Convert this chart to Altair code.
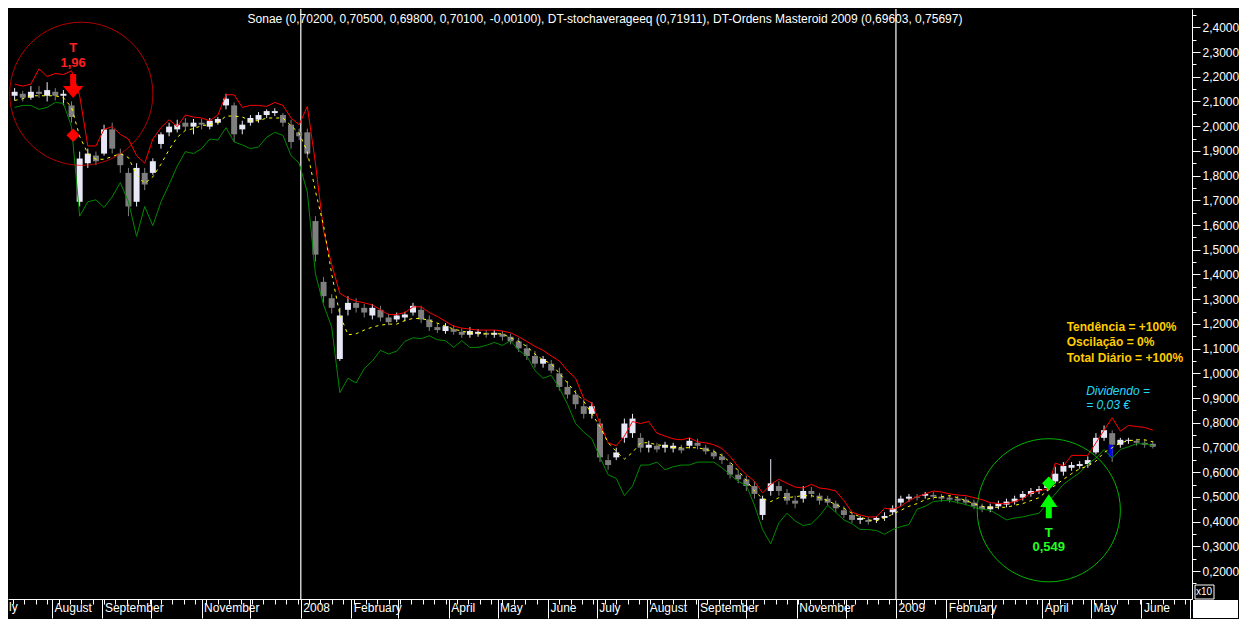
import altair as alt
import pandas as pd

W, H = 1184, 590

# ---- data (prices, one sample every 5 calendar days from 2007-07-09) ----
first_date = "2007-07-09"

red_band = [2.170,2.162,2.170,2.232,2.201,2.213,2.209,2.224,2.123,1.920,
1.920,1.987,1.998,1.967,1.948,1.881,1.850,1.948,1.994,2.026,
1.998,2.045,2.037,2.033,2.022,2.045,2.127,2.127,2.076,2.084,
2.084,2.080,2.096,2.084,2.033,2.006,2.080,1.850,1.577,1.440,
1.324,1.304,1.292,1.285,1.277,1.257,1.238,1.238,1.246,1.269,
1.269,1.246,1.230,1.210,1.191,1.183,1.179,1.175,1.175,1.175,
1.171,1.164,1.148,1.129,1.109,1.093,1.070,1.050,1.011,0.980,
0.898,0.879,0.797,0.719,0.707,0.746,0.805,0.797,0.805,0.758,
0.746,0.735,0.731,0.739,0.723,0.719,0.711,0.696,0.664,0.622,
0.590,0.563,0.516,0.551,0.571,0.555,0.540,0.536,0.551,0.536,
0.532,0.524,0.485,0.438,0.427,0.419,0.419,0.454,0.450,0.462,
0.485,0.501,0.512,0.524,0.520,0.512,0.508,0.505,0.497,0.489,
0.477,0.473,0.473,0.481,0.493,0.516,0.524,0.532,0.637,0.625,
0.668,0.668,0.668,0.719,0.770,0.820,0.766,0.789,0.785,0.781,
0.770]

green_band = [2.076,2.084,2.084,2.068,2.076,2.096,2.092,1.998,1.636,1.694,
1.702,1.671,1.714,1.772,1.694,1.554,1.675,1.597,1.694,1.764,
1.838,1.897,1.889,1.909,1.948,1.944,1.994,1.936,1.924,1.909,
1.916,1.955,1.975,1.963,1.881,1.850,1.733,1.402,1.277,1.187,
0.922,0.980,0.961,1.019,1.050,1.093,1.078,1.090,1.129,1.144,
1.140,1.152,1.136,1.132,1.105,1.132,1.105,1.105,1.113,1.125,
1.113,1.132,1.093,1.070,1.011,0.980,0.992,0.941,0.875,0.797,
0.762,0.735,0.660,0.590,0.575,0.505,0.544,0.629,0.629,0.641,
0.610,0.622,0.629,0.629,0.641,0.641,0.641,0.618,0.590,0.563,
0.547,0.466,0.368,0.310,0.395,0.434,0.403,0.384,0.391,0.423,
0.466,0.438,0.407,0.391,0.368,0.368,0.364,0.349,0.368,0.380,
0.388,0.450,0.462,0.481,0.485,0.485,0.477,0.469,0.458,0.450,
0.446,0.427,0.407,0.415,0.419,0.427,0.434,0.473,0.512,0.551,
0.575,0.598,0.633,0.657,0.692,0.657,0.692,0.703,0.715,0.715,
0.707]

yellow_avg = [2.104,2.111,2.123,2.123,2.123,2.123,2.115,2.076,1.959,1.889,
1.866,1.866,1.877,1.889,1.873,1.803,1.768,1.795,1.846,1.905,
1.955,1.983,1.990,2.002,2.006,2.014,2.041,2.041,2.037,2.022,
2.022,2.033,2.033,2.033,2.002,1.971,1.897,1.737,1.597,1.402,
1.238,1.156,1.160,1.175,1.187,1.195,1.199,1.199,1.214,1.222,
1.222,1.214,1.203,1.191,1.179,1.171,1.164,1.160,1.160,1.160,
1.160,1.144,1.129,1.109,1.078,1.054,1.039,1.000,0.961,0.922,
0.887,0.836,0.785,0.719,0.684,0.653,0.680,0.719,0.719,0.711,
0.707,0.699,0.699,0.699,0.699,0.692,0.684,0.668,0.641,0.606,
0.567,0.524,0.493,0.481,0.497,0.497,0.501,0.505,0.505,0.497,
0.485,0.469,0.454,0.434,0.419,0.407,0.403,0.415,0.430,0.446,
0.462,0.473,0.489,0.497,0.501,0.505,0.497,0.485,0.473,0.462,
0.458,0.458,0.458,0.466,0.473,0.485,0.497,0.524,0.547,0.571,
0.594,0.614,0.625,0.645,0.680,0.699,0.719,0.727,0.731,0.731,
0.723]

open_px = [2.123,2.131,2.115,2.139,2.123,2.139,2.123,2.084,1.694,1.850,
1.881,1.889,1.987,1.889,1.811,1.694,1.811,1.811,1.928,1.975,
1.987,2.014,1.998,2.014,1.998,2.014,2.084,2.084,1.987,2.014,
2.026,2.045,2.053,2.045,2.006,1.975,1.975,1.616,1.370,1.304,
1.058,1.257,1.285,1.265,1.234,1.257,1.226,1.218,1.226,1.246,
1.257,1.218,1.187,1.171,1.179,1.168,1.156,1.160,1.164,1.156,
1.160,1.148,1.129,1.101,1.070,1.039,1.039,1.000,0.945,0.914,
0.867,0.836,0.797,0.649,0.660,0.739,0.758,0.739,0.699,0.707,
0.699,0.696,0.699,0.707,0.719,0.699,0.680,0.664,0.629,0.590,
0.571,0.544,0.427,0.524,0.544,0.516,0.485,0.493,0.524,0.505,
0.493,0.473,0.446,0.427,0.407,0.407,0.407,0.415,0.438,0.477,
0.493,0.501,0.505,0.508,0.501,0.497,0.493,0.489,0.477,0.462,
0.450,0.462,0.469,0.481,0.497,0.512,0.524,0.536,0.563,0.602,
0.618,0.625,0.633,0.680,0.739,0.758,0.711,0.727,0.727,0.719,
0.715]

close_px = [2.139,2.115,2.139,2.131,2.146,2.123,2.131,2.037,1.869,1.889,
1.858,1.987,1.909,1.842,1.675,1.831,1.764,1.858,1.967,1.998,
2.006,1.998,2.014,2.006,2.022,2.029,2.111,1.967,2.006,2.033,
2.045,2.061,2.061,2.014,1.936,1.959,1.889,1.480,1.312,1.265,
1.234,1.285,1.265,1.246,1.265,1.226,1.207,1.234,1.238,1.273,
1.218,1.187,1.175,1.191,1.168,1.156,1.171,1.168,1.156,1.164,
1.148,1.129,1.101,1.070,1.039,1.058,1.011,0.945,0.914,0.875,
0.836,0.867,0.660,0.629,0.680,0.797,0.817,0.699,0.711,0.692,
0.711,0.707,0.688,0.727,0.707,0.684,0.664,0.649,0.590,0.571,
0.544,0.512,0.493,0.555,0.524,0.485,0.473,0.524,0.512,0.485,
0.477,0.454,0.427,0.407,0.415,0.399,0.415,0.423,0.454,0.493,
0.501,0.497,0.512,0.501,0.493,0.489,0.485,0.477,0.462,0.450,
0.462,0.473,0.481,0.493,0.512,0.524,0.532,0.547,0.594,0.625,
0.629,0.633,0.649,0.739,0.770,0.711,0.731,0.731,0.719,0.711,
0.703]

high_px = [2.154,2.143,2.162,2.162,2.178,2.154,2.146,2.100,1.897,1.909,
1.897,2.006,2.014,1.909,1.831,1.850,1.831,1.870,1.975,2.014,
2.026,2.033,2.029,2.029,2.033,2.037,2.131,2.096,2.022,2.045,
2.057,2.068,2.072,2.053,2.026,1.990,1.990,1.636,1.390,1.320,
1.265,1.312,1.304,1.281,1.281,1.273,1.242,1.246,1.249,1.285,
1.273,1.234,1.203,1.203,1.195,1.183,1.187,1.179,1.175,1.175,
1.171,1.160,1.144,1.117,1.090,1.070,1.054,1.023,0.969,0.933,
0.894,0.883,0.817,0.672,0.699,0.817,0.836,0.758,0.727,0.719,
0.723,0.719,0.711,0.739,0.735,0.711,0.692,0.676,0.641,0.610,
0.586,0.563,0.505,0.653,0.563,0.532,0.505,0.544,0.540,0.516,
0.505,0.485,0.462,0.438,0.423,0.419,0.423,0.438,0.466,0.505,
0.512,0.512,0.520,0.520,0.512,0.508,0.505,0.501,0.489,0.473,
0.473,0.485,0.493,0.505,0.524,0.536,0.544,0.563,0.622,0.641,
0.641,0.645,0.664,0.758,0.789,0.770,0.739,0.739,0.735,0.731,
0.727]

low_px = [2.104,2.100,2.107,2.115,2.100,2.104,2.084,2.014,1.675,1.831,
1.842,1.881,1.889,1.811,1.636,1.675,1.741,1.803,1.909,1.959,
1.975,1.983,1.967,1.987,1.987,2.006,2.068,1.936,1.967,2.002,
2.014,2.033,2.041,1.998,1.909,1.944,1.870,1.452,1.285,1.242,
1.050,1.234,1.246,1.226,1.218,1.210,1.195,1.207,1.210,1.234,
1.203,1.171,1.164,1.160,1.156,1.144,1.144,1.148,1.144,1.144,
1.132,1.117,1.086,1.054,1.023,1.023,1.000,0.930,0.898,0.856,
0.817,0.817,0.641,0.610,0.649,0.719,0.739,0.680,0.680,0.680,
0.680,0.680,0.676,0.696,0.692,0.672,0.653,0.633,0.575,0.555,
0.524,0.493,0.407,0.505,0.505,0.469,0.454,0.477,0.497,0.469,
0.466,0.438,0.415,0.395,0.391,0.388,0.395,0.403,0.427,0.462,
0.481,0.485,0.493,0.489,0.481,0.477,0.473,0.466,0.450,0.438,
0.438,0.450,0.458,0.469,0.485,0.501,0.512,0.524,0.555,0.586,
0.606,0.614,0.618,0.672,0.727,0.641,0.699,0.715,0.707,0.699,
0.696]

year_starts = ["2008-01-01", "2009-01-01"]

# signals / annotations
sell_date, sell_price = "2007-08-14", 1.963
buy_date, buy_price = "2009-04-05", 0.555
dividend_date, dividend_low, dividend_high = "2009-05-13", 0.661, 0.711

title_text = ("Sonae (0,70200, 0,70500, 0,69800, 0,70100, -0,00100), "
              "DT-stochaverageeq (0,71911), DT-Ordens Masteroid 2009 (0,69603, 0,75697)")

# ---- tables ----
dates = pd.date_range(first_date, periods=len(close_px), freq="5D")
df = pd.DataFrame({"date": dates, "open": open_px, "close": close_px,
                   "high": high_px, "low": low_px,
                   "red": red_band, "green": green_band, "yellow": yellow_avg})
years_df = pd.DataFrame({"date": pd.to_datetime(year_starts)})

FONT = "Liberation Sans"
xs = alt.Scale(domain=[alt.DateTime(year=2007, month=7, date=8),
                       alt.DateTime(year=2009, month=6, date=29)], nice=False)
ys = alt.Scale(domain=[0.087, 2.474], nice=False, zero=False)

month_axis = alt.Axis(
    orient="bottom", tickCount={"interval": "month", "step": 1}, tickSize=19,
    tickColor="white", domainColor="white", labelColor="white", labelFont=FONT,
    labelFontSize=12, labelAlign="left", labelBaseline="top", labelPadding=-16,
    labelOffset=2, labelOverlap=False, labelFlush=False, grid=False, title=None,
    labelExpr=("month(datum.value) == 0 ? timeFormat(datum.value, '%Y') : "
               "((month(datum.value) == 2 || month(datum.value) == 9 || month(datum.value) == 11)"
               " ? '' : timeFormat(datum.value, '%B'))"))
week_axis = alt.Axis(orient="bottom", tickCount={"interval": "week", "step": 1},
                     tickSize=5, tickColor="white", labels=False, domain=False,
                     grid=False, title=None)
major_vals = [round(0.2 + 0.1 * k, 2) for k in range(23)]
minor_vals = [round(0.15 + 0.1 * k, 2) for k in range(24)]
y_major = alt.Axis(orient="right", values=major_vals, tickSize=8, tickColor="white",
                   domainColor="white", labelColor="white", labelFont=FONT,
                   labelFontSize=12, labelPadding=2, labelOverlap=False, grid=False,
                   title=None, labelExpr="replace(format(datum.value, '.4f'), '.', ',')")
y_minor = alt.Axis(orient="right", values=minor_vals, tickSize=4, tickColor="white",
                   labels=False, domain=False, grid=False, title=None)

base = alt.Chart(df).transform_calculate(
    kind="datum.close >= datum.open ? 'up' : 'down'")
candle_color = alt.Color("kind:N", scale=alt.Scale(domain=["up", "down"],
                         range=["#e8e8f6", "#7f7f7f"]), legend=None)

year_rules = alt.Chart(years_df).mark_rule(color="white", strokeWidth=1.2).encode(
    x=alt.X("date:T", scale=xs, axis=None))

wicks = base.mark_rule(strokeWidth=1).encode(
    x=alt.X("date:T", scale=xs, axis=week_axis),
    y=alt.Y("low:Q", scale=ys, axis=y_minor), y2="high:Q", color=candle_color)

bodies = base.mark_bar(size=6).encode(
    x=alt.X("date:T", scale=xs, axis=month_axis),
    y=alt.Y("open:Q", scale=ys, axis=y_major), y2="close:Q", color=candle_color)

div_df = pd.DataFrame({"date": pd.to_datetime([dividend_date]),
                       "lo": [dividend_low], "hi": [dividend_high]})
div_bar = alt.Chart(div_df).mark_bar(size=4, color="#0000ff").encode(
    x=alt.X("date:T", scale=xs, axis=None),
    y=alt.Y("lo:Q", scale=ys, axis=None), y2="hi:Q")

def line(field, color, **kw):
    return alt.Chart(df).mark_line(color=color, strokeWidth=1, **kw).encode(
        x=alt.X("date:T", scale=xs, axis=None),
        y=alt.Y(f"{field}:Q", scale=ys, axis=None))

red_l = line("red", "#ff0000")
green_l = line("green", "#008a00")
yellow_l = line("yellow", "#ffff00", strokeDash=[3, 4])

circ_df = pd.DataFrame({"date": pd.to_datetime(["2007-08-19", buy_date]),
                        "price": [2.131, 0.446], "c": ["#ff0000", "#00ff00"]})
circles = alt.Chart(circ_df).mark_point(shape="circle", filled=False, size=20500,
                                        strokeWidth=1, clip=True).encode(
    x=alt.X("date:T", scale=xs, axis=None), y=alt.Y("price:Q", scale=ys, axis=None),
    color=alt.Color("c:N", scale=None))

arrow_down = "M-0.25,-1L0.25,-1L0.25,0L0.85,0L0,1L-0.85,0L-0.25,0Z"
arrow_up = "M-0.25,1L0.25,1L0.25,0.05L0.72,0.05L0,-1L-0.72,0.05L-0.25,0.05Z"
arr_red = alt.Chart(pd.DataFrame({"date": pd.to_datetime([sell_date]), "price": [2.162]})).mark_point(
    shape=arrow_down, filled=True, size=576, color="#ff0000", opacity=1).encode(
    x=alt.X("date:T", scale=xs, axis=None), y=alt.Y("price:Q", scale=ys, axis=None))
arr_green = alt.Chart(pd.DataFrame({"date": pd.to_datetime([buy_date]), "price": [0.462]})).mark_point(
    shape=arrow_up, filled=True, size=576, color="#00ff00", opacity=1).encode(
    x=alt.X("date:T", scale=xs, axis=None), y=alt.Y("price:Q", scale=ys, axis=None))

dia_df = pd.DataFrame({"date": pd.to_datetime([sell_date, buy_date]),
                       "price": [sell_price, buy_price], "c": ["#ff0000", "#00ff00"]})
diamonds = alt.Chart(dia_df).mark_point(shape="diamond", filled=True, size=180, opacity=1).encode(
    x=alt.X("date:T", scale=xs, axis=None), y=alt.Y("price:Q", scale=ys, axis=None),
    color=alt.Color("c:N", scale=None))

def texts(dates_, prices, labels, color, size=13, weight="bold", style="normal", align="center"):
    d = pd.DataFrame({"date": pd.to_datetime(dates_), "price": prices, "label": labels})
    return alt.Chart(d).mark_text(color=color, font=FONT, fontSize=size, fontWeight=weight,
                                  fontStyle=style, align=align, baseline="middle").encode(
        x=alt.X("date:T", scale=xs, axis=None), y=alt.Y("price:Q", scale=ys, axis=None),
        text="label:N")

t_red = texts([sell_date] * 2, [2.318, 2.256], ["T", "1,96"], "#ff2020")
t_green = texts([buy_date] * 2, [0.356, 0.298], ["T", "0,549"], "#22ff22")
t_gold = texts(["2009-04-16"] * 3, [1.187, 1.125, 1.062],
               ["Tendência = +100%", "Oscilação = 0%", "Total Diário = +100%"],
               "#ffcc00", size=12, align="left")
t_cyan = texts(["2009-04-28"] * 2, [0.930, 0.871], ["Dividendo =", "= 0,03 €"],
               "#22d8f8", size=12, weight="normal", style="italic", align="left")

title = alt.Chart(pd.DataFrame({"t": [title_text]})).mark_text(
    color="white", font=FONT, fontSize=12, align="center", baseline="middle").encode(
    text="t:N", x=alt.value(W / 2 + 5), y=alt.value(10))

ly = alt.Chart(pd.DataFrame({"t": ["ly"]})).mark_text(
    color="white", font=FONT, fontSize=12, align="left", baseline="top").encode(
    text="t:N", x=alt.value(1), y=alt.value(H + 3))

corner = alt.Chart(pd.DataFrame({"t": [0]})).mark_rect(color="white").encode(
    x=alt.value(W + 1), x2=alt.value(W + 46), y=alt.value(H + 1), y2=alt.value(H + 19))
x10_box = alt.Chart(pd.DataFrame({"t": [0]})).mark_rect(fill="black", stroke="white", strokeWidth=1).encode(
    x=alt.value(W + 3), x2=alt.value(W + 22), y=alt.value(H - 14), y2=alt.value(H))
x10_txt = alt.Chart(pd.DataFrame({"t": ["x10"]})).mark_text(
    color="white", font=FONT, fontSize=10, align="left", baseline="middle").encode(
    text="t:N", x=alt.value(W + 4), y=alt.value(H - 7))

chart = alt.layer(
    year_rules, wicks, bodies, div_bar, red_l, green_l, yellow_l,
    circles, arr_red, arr_green, diamonds, t_red, t_green, t_gold, t_cyan,
    title, ly, corner, x10_box, x10_txt
).resolve_axis(x="independent", y="independent").properties(
    width=W, height=H, padding=0, background="black"
).configure_view(stroke=None)

chart.save("out.html", embed_options={"renderer": "svg", "actions": False})
